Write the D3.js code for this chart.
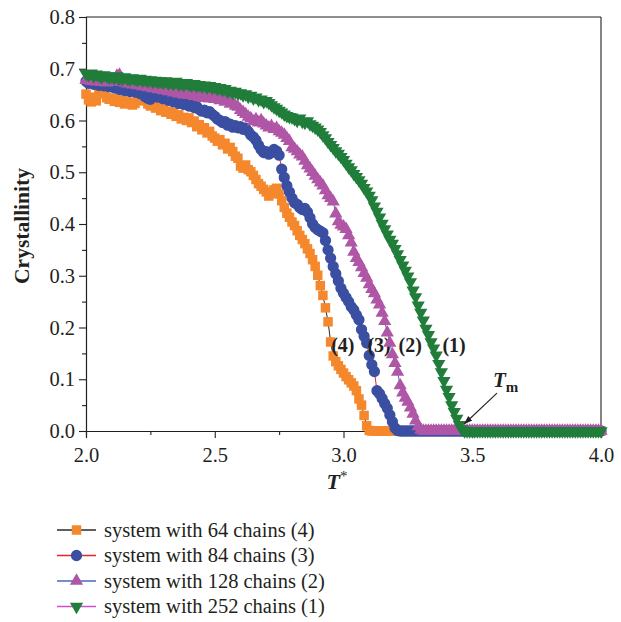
<!DOCTYPE html>
<html>
<head>
<meta charset="utf-8">
<script src="https://cdn.jsdelivr.net/npm/d3@7"></script>
<style>
  body { margin: 0; background: #fff; }
  svg { display: block; }
  text { font-family: "Liberation Serif", "DejaVu Serif", serif; fill: #231f20; }
</style>
</head>
<body>
<svg id="chart" width="621" height="622"></svg>
<script>
// Crystallinity vs reduced temperature for four system sizes (step 0.01 in T*)
const TEMP_START = 2.0;
const TEMP_STEP = 0.01;

const chains64 = [
  0.651,0.640,0.636,0.645,0.638,0.655,0.659,0.652,0.644,0.641,
  0.643,0.637,0.641,0.635,0.639,0.632,0.636,0.634,0.630,0.633,
  0.641,0.645,0.638,0.640,0.632,0.628,0.630,0.624,0.626,0.619,
  0.622,0.616,0.618,0.612,0.615,0.608,0.611,0.603,0.606,0.600,
  0.605,0.596,0.599,0.588,0.592,0.582,0.586,0.576,0.579,0.570,
  0.566,0.560,0.563,0.553,0.556,0.545,0.548,0.540,0.531,0.527,
  0.512,0.508,0.514,0.505,0.501,0.494,0.486,0.478,0.473,0.467,
  0.462,0.454,0.459,0.466,0.469,0.458,0.445,0.432,0.421,0.413,
  0.404,0.397,0.387,0.378,0.370,0.362,0.352,0.343,0.331,0.318,
  0.301,0.281,0.262,0.238,0.211,0.172,0.145,0.134,0.126,0.119,
  0.112,0.105,0.099,0.093,0.087,0.078,0.062,0.050,0.030,0.010,
  0.001,0,0,0,0,0,0,0,0,0,
  0,0,0,0,0,0,0,0,0,0,
  0,0,0,0,0,0,0,0,0,0,
  0,0,0,0,0,0,0,0,0,0,
  0,0,0,0,0,0,0,0,0,0,
  0,0,0,0,0,0,0,0,0,0,
  0,0,0,0,0,0,0,0,0,0,
  0,0,0,0,0,0,0,0,0,0,
  0,0,0,0,0,0,0,0,0,0,
  0
];

const chains84 = [
  0.676,0.672,0.674,0.670,0.673,0.668,0.671,0.667,0.669,0.665,
  0.667,0.663,0.665,0.660,0.662,0.658,0.661,0.656,0.659,0.655,
  0.657,0.652,0.654,0.646,0.643,0.641,0.648,0.650,0.645,0.647,
  0.642,0.644,0.639,0.641,0.636,0.638,0.633,0.635,0.631,0.633,
  0.628,0.630,0.625,0.627,0.621,0.618,0.620,0.615,0.617,0.612,
  0.608,0.603,0.600,0.596,0.598,0.591,0.593,0.587,0.590,0.586,
  0.588,0.583,0.585,0.579,0.572,0.568,0.562,0.552,0.544,0.538,
  0.540,0.535,0.538,0.544,0.541,0.533,0.506,0.490,0.474,0.462,
  0.450,0.441,0.438,0.432,0.428,0.430,0.423,0.412,0.400,0.393,
  0.389,0.386,0.383,0.368,0.350,0.334,0.318,0.304,0.290,0.276,
  0.266,0.258,0.250,0.240,0.234,0.224,0.215,0.196,0.183,0.170,
  0.146,0.128,0.115,0.078,0.072,0.063,0.053,0.044,0.031,0.018,
  0.006,0.001,0,0,0,0,0,0,0,0,
  0,0,0,0,0,0,0,0,0,0,
  0,0,0,0,0,0,0,0,0,0,
  0,0,0,0,0,0,0,0,0,0,
  0,0,0,0,0,0,0,0,0,0,
  0,0,0,0,0,0,0,0,0,0,
  0,0,0,0,0,0,0,0,0,0,
  0,0,0,0,0,0,0,0,0,0,
  0
];

const chains128 = [
  0.678,0.681,0.676,0.679,0.675,0.678,0.674,0.677,0.673,0.676,
  0.674,0.679,0.686,0.688,0.680,0.673,0.671,0.674,0.669,0.672,
  0.668,0.671,0.666,0.669,0.664,0.667,0.662,0.665,0.660,0.663,
  0.658,0.661,0.656,0.659,0.654,0.657,0.652,0.655,0.650,0.653,
  0.649,0.651,0.647,0.650,0.645,0.648,0.643,0.646,0.642,0.645,
  0.641,0.644,0.639,0.642,0.636,0.638,0.632,0.634,0.628,0.626,
  0.620,0.616,0.612,0.607,0.604,0.598,0.602,0.596,0.600,0.594,
  0.590,0.586,0.589,0.583,0.585,0.579,0.576,0.572,0.566,0.560,
  0.548,0.545,0.540,0.534,0.530,0.522,0.513,0.507,0.500,0.493,
  0.486,0.480,0.474,0.465,0.455,0.450,0.443,0.420,0.405,0.398,
  0.395,0.390,0.378,0.364,0.346,0.334,0.326,0.316,0.305,0.296,
  0.283,0.274,0.266,0.254,0.244,0.228,0.212,0.190,0.170,0.148,
  0.131,0.114,0.088,0.074,0.064,0.056,0.045,0.033,0.020,0.009,
  0.002,0,0,0,0,0,0,0,0,0,
  0,0,0,0,0,0,0,0,0,0,
  0,0,0,0,0,0,0,0,0,0,
  0,0,0,0,0,0,0,0,0,0,
  0,0,0,0,0,0,0,0,0,0,
  0,0,0,0,0,0,0,0,0,0,
  0,0,0,0,0,0,0,0,0,0,
  0
];

const chains252 = [
  0.690,0.688,0.691,0.686,0.689,0.687,0.684,0.688,0.686,0.683,
  0.685,0.682,0.686,0.683,0.680,0.684,0.681,0.679,0.682,0.680,
  0.678,0.681,0.677,0.679,0.676,0.678,0.675,0.677,0.674,0.676,
  0.673,0.676,0.672,0.674,0.671,0.675,0.670,0.672,0.669,0.673,
  0.670,0.668,0.671,0.667,0.669,0.666,0.668,0.664,0.667,0.663,
  0.665,0.661,0.663,0.659,0.661,0.656,0.658,0.654,0.656,0.652,
  0.653,0.649,0.651,0.646,0.648,0.643,0.645,0.640,0.641,0.636,
  0.638,0.634,0.630,0.626,0.623,0.619,0.616,0.612,0.609,0.607,
  0.606,0.603,0.600,0.604,0.598,0.596,0.599,0.593,0.590,0.587,
  0.583,0.578,0.572,0.566,0.559,0.553,0.547,0.541,0.536,0.530,
  0.524,0.517,0.510,0.504,0.497,0.491,0.485,0.478,0.470,0.463,
  0.455,0.446,0.434,0.424,0.413,0.401,0.390,0.380,0.370,0.362,
  0.352,0.342,0.331,0.320,0.310,0.299,0.288,0.272,0.259,0.243,
  0.229,0.214,0.198,0.186,0.172,0.160,0.146,0.130,0.114,0.097,
  0.080,0.066,0.050,0.037,0.024,0.012,0.003,0,0,0,
  0,0,0,0,0,0,0,0,0,0,
  0,0,0,0,0,0,0,0,0,0,
  0,0,0,0,0,0,0,0,0,0,
  0,0,0,0,0,0,0,0,0,0,
  0,0,0,0,0,0,0,0,0,0,
  0
];

const seriesLabels = [
  "system with 64 chains (4)",
  "system with 84 chains (3)",
  "system with 128 chains (2)",
  "system with 252 chains (1)"
];
const curveTags = ["(4)", "(3)", "(2)", "(1)"];
const curveTagT = [2.952, 3.093, 3.214, 3.384];
const curveTagC = 0.152;

const xTicks = [2.0, 2.5, 3.0, 3.5, 4.0];
const yTicks = [0.0, 0.1, 0.2, 0.3, 0.4, 0.5, 0.6, 0.7, 0.8];

const temperatures = d3.range(chains64.length).map(i => +(TEMP_START + i * TEMP_STEP).toFixed(2));

const seriesValues = [chains64, chains84, chains128, chains252];
const markerFill = ["#f5882c", "#3a4fa2", "#b056a6", "#217d3a"];
const lineColor = ["#2b2b2b", "#e8232b", "#4a64c4", "#cc4fc8"];
const markerShape = ["square", "circle", "up", "down"];

const svg = d3.select("#chart");
const x = d3.scaleLinear().domain([2.0, 4.0]).range([86, 601]);
const y = d3.scaleLinear().domain([0.0, 0.8]).range([431, 17]);

function symbolPath(shape) {
  if (shape === "square") return d3.symbol(d3.symbolSquare, 90)();
  if (shape === "circle") return d3.symbol(d3.symbolCircle, 100)();
  return d3.symbol(d3.symbolTriangle, 76)();
}
function symbolTransform(shape, px, py) {
  return shape === "down" ? `translate(${px},${py}) rotate(180)` : `translate(${px},${py})`;
}

// frame
const frame = svg.append("g").attr("stroke", "#231f20").attr("stroke-width", 1.1).attr("fill", "none");
frame.append("line").attr("x1", x(2.0)).attr("x2", x(4.0)).attr("y1", y(0.8)).attr("y2", y(0.8));
frame.append("line").attr("x1", x(4.0)).attr("x2", x(4.0)).attr("y1", y(0.8)).attr("y2", y(0.0));

// axes
const fmt = d3.format(".1f");
svg.append("g").attr("transform", `translate(0,${y(0)})`)
  .call(d3.axisBottom(x).tickValues(xTicks).tickFormat(fmt).tickSize(7).tickPadding(9));
svg.append("g").attr("transform", `translate(0,${y(0)})`)
  .call(d3.axisBottom(x).tickValues([2.25, 2.75, 3.25, 3.75]).tickFormat("").tickSize(4));
svg.append("g").attr("transform", `translate(${x(2.0)},0)`)
  .call(d3.axisLeft(y).tickValues(yTicks).tickFormat(fmt).tickSize(7).tickPadding(4));
svg.append("g").attr("transform", `translate(${x(2.0)},0)`)
  .call(d3.axisLeft(y).tickValues([0.05, 0.15, 0.25, 0.35, 0.45, 0.55, 0.65, 0.75]).tickFormat("").tickSize(4));
svg.selectAll(".domain").attr("stroke", "#231f20").attr("stroke-width", 1.1);
svg.selectAll(".tick line").attr("stroke", "#231f20").attr("stroke-width", 1.1);
svg.selectAll(".tick text").style("font-family", "'Liberation Serif', serif").style("font-size", "20.5px").attr("fill", "#231f20");

// axis titles
svg.append("text")
  .attr("transform", `translate(29,${(y(0) + y(0.8)) / 2 + 2}) rotate(-90)`)
  .attr("text-anchor", "middle")
  .style("font-size", "21.5px").style("font-weight", "bold")
  .text("Crystallinity");
const xt = svg.append("text").attr("x", 337).attr("y", 489).attr("text-anchor", "middle")
  .style("font-size", "22px");
xt.append("tspan").style("font-weight", "bold").style("font-style", "italic").text("T");
xt.append("tspan").attr("dy", -8).style("font-size", "15px").text("*");

// series: lines then markers, smallest system first; curve tags go in after (3)
function drawSeries(k) {
  const vals = seriesValues[k];
  const pts = temperatures.map((t, i) => [t, vals[i]]);
  const g = svg.append("g");
  g.append("path")
    .attr("d", d3.line().x(d => x(d[0])).y(d => y(d[1]))(pts))
    .attr("fill", "none").attr("stroke", lineColor[k]).attr("stroke-width", 1);
  g.selectAll("path.mk").data(pts).join("path").attr("class", "mk")
    .attr("d", symbolPath(markerShape[k]))
    .attr("transform", d => symbolTransform(markerShape[k], x(d[0]), y(d[1])))
    .attr("fill", markerFill[k]);
}
drawSeries(0);
drawSeries(1);
svg.append("g").selectAll("text").data(curveTags).join("text")
  .attr("x", (d, i) => x(curveTagT[i]))
  .attr("y", y(curveTagC))
  .style("font-size", "20px").style("font-weight", "bold")
  .text(d => d);
drawSeries(2);
drawSeries(3);

// melting point annotation
const tmStart = [3.596, 0.073], tmEnd = [3.470, 0.014];
svg.append("defs").append("marker").attr("id", "arrowhead")
  .attr("viewBox", "0 0 10 10").attr("refX", 9).attr("refY", 5)
  .attr("markerWidth", 8).attr("markerHeight", 8).attr("orient", "auto")
  .append("path").attr("d", "M0,1.5 L10,5 L0,8.5 Z").attr("fill", "#231f20");
svg.append("line")
  .attr("x1", x(tmStart[0])).attr("y1", y(tmStart[1]))
  .attr("x2", x(tmEnd[0])).attr("y2", y(tmEnd[1]))
  .attr("stroke", "#231f20").attr("stroke-width", 1.1)
  .attr("marker-end", "url(#arrowhead)");
const tm = svg.append("text").attr("x", 493).attr("y", 387).style("font-size", "21px");
tm.append("tspan").style("font-weight", "bold").style("font-style", "italic").text("T");
tm.append("tspan").attr("dy", 5).style("font-size", "15px").style("font-weight", "bold").text("m");

// legend
const legend = svg.append("g");
seriesLabels.forEach((label, k) => {
  const ly = 530 + k * 25.5;
  const row = legend.append("g");
  row.append("line").attr("x1", 57).attr("x2", 96).attr("y1", ly).attr("y2", ly)
    .attr("stroke", lineColor[k]).attr("stroke-width", 1.4);
  row.append("path").attr("d", symbolPath(markerShape[k]))
    .attr("transform", symbolTransform(markerShape[k], 76.5, ly))
    .attr("fill", markerFill[k]);
  row.append("text").attr("x", 104).attr("y", ly + 6.5).style("font-size", "20.5px").text(label);
});
</script>
</body>
</html>
